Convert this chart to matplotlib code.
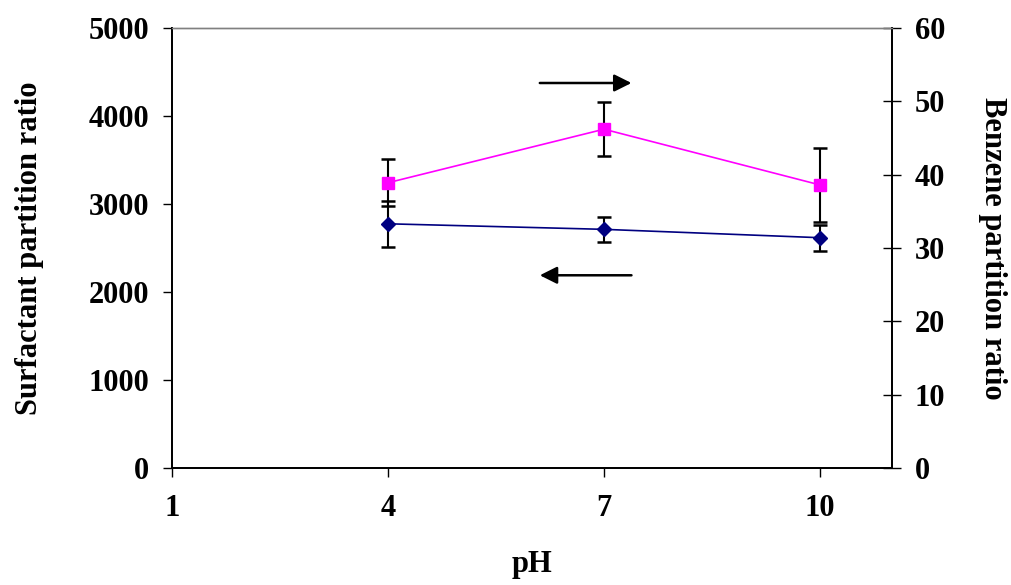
import matplotlib
matplotlib.use('Agg')
import matplotlib.pyplot as plt

ph = [4, 7, 10]
surf_ratio = [2775, 2712, 2617]
surf_err = [260, 140, 150]
benz_ratio = [38.9, 46.2, 38.6]
benz_err = [3.2, 3.7, 5.0]

x_ticks = [1, 4, 7, 10]
left_ticks = [0, 1000, 2000, 3000, 4000, 5000]
right_ticks = [0, 10, 20, 30, 40, 50, 60]

plt.rcParams['font.family'] = ['Liberation Serif', 'DejaVu Serif']
plt.rcParams['font.weight'] = 'bold'

fig = plt.figure(figsize=(10.11, 5.85), dpi=100)
ax = fig.add_axes([172 / 1011, 1 - 468 / 585, 720 / 1011, 440 / 585])
ax2 = ax.twinx()

ax.errorbar(ph, surf_ratio, yerr=surf_err, color='#000080', marker='D', markersize=7,
            linewidth=1.2, ecolor='black', elinewidth=1.5, capsize=5, capthick=1.8, zorder=3)
ax2.errorbar(ph, benz_ratio, yerr=benz_err, color='#FF00FF', marker='s', markersize=8,
             linewidth=1.2, ecolor='black', elinewidth=1.5, capsize=5, capthick=1.8, zorder=3)

ax.set_xlim(1, 11)
ax.set_ylim(0, 5000)
ax2.set_ylim(0, 60)
ax.set_xticks(x_ticks)
ax.set_yticks(left_ticks)
ax2.set_yticks(right_ticks)

for a in (ax, ax2):
    a.spines['top'].set_color('#808080')
    a.spines['top'].set_linewidth(1.0)
    for s in ('left', 'right', 'bottom'):
        a.spines[s].set_linewidth(1.3)

ax.tick_params(axis='x', direction='out', length=6.5, width=1, labelsize=22, pad=12)
ax.tick_params(axis='y', direction='out', length=6.5, width=1, labelsize=22, pad=10)
ax2.tick_params(axis='y', direction='inout', length=13, width=1, labelsize=22, pad=10)

ax.set_xlabel('pH', fontsize=22, fontweight='bold', labelpad=20)
ax.set_ylabel('Surfactant partition ratio', fontsize=22, fontweight='bold', labelpad=32)
ax2.set_ylabel('Benzene partition ratio', fontsize=22, fontweight='bold', rotation=270, labelpad=44)

# direction arrows
ax.annotate('', xy=(7.42, 4375), xytext=(6.07, 4375),
            arrowprops=dict(arrowstyle='-|>', color='black', lw=1.8, mutation_scale=26))
ax.annotate('', xy=(6.07, 2190), xytext=(7.42, 2190),
            arrowprops=dict(arrowstyle='-|>', color='black', lw=1.8, mutation_scale=26))

fig.savefig('out.png', dpi=100)
